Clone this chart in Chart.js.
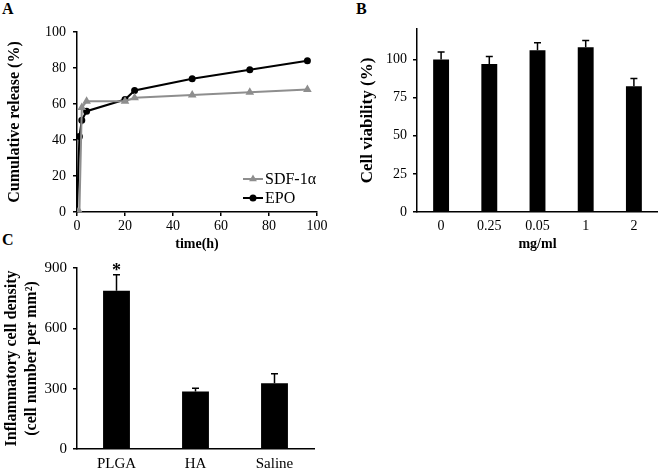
<!DOCTYPE html>
<html>
<head>
<meta charset="utf-8">
<script src="https://cdn.jsdelivr.net/npm/chart.js@4.4.0/dist/chart.umd.min.js"></script>
<style>
  body { margin: 0; background: #fff; width: 658px; height: 471px; position: relative; overflow: hidden; }
  canvas { position: absolute; }
  .tag { position: absolute; font: bold 16px "Liberation Serif", serif; color: #000; }
</style>
</head>
<body>
<div class="tag" style="left:2px; top:0px;">A</div>
<div class="tag" style="left:356px; top:0px;">B</div>
<div class="tag" style="left:2px; top:231px;">C</div>
<canvas id="chart-a" width="330" height="253" style="left:0; top:0;"></canvas>
<canvas id="chart-b" width="328" height="253" style="left:330px; top:0;"></canvas>
<canvas id="chart-c" width="330" height="241" style="left:0; top:230px;"></canvas>
<script>
// --- panel A: release curves ---
const sdfTime = [0, 1, 2, 4, 20, 24, 48, 72, 96];
const sdfRelease = [0, 0, 58, 61.5, 61.5, 63.5, 65, 66.5, 68];
const epoTime = [0, 1, 2, 4, 20, 24, 48, 72, 96];
const epoRelease = [0, 42, 51, 56, 62.5, 67.5, 74, 79, 84];

// --- panel B: cell viability ---
const doseLabels = ['0', '0.25', '0.05', '1', '2'];
const viability = [100, 97, 106, 108, 82.5];
const viabilityErr = [5, 5, 5, 4.5, 5];

// --- panel C: inflammatory cells ---
const groupLabels = ['PLGA', 'HA', 'Saline'];
const cellDensity = [787, 286, 327];
const cellDensityErr = [80, 16, 47];
const starMarks = ['*', '', ''];

const SERIF = '"Liberation Serif", "Times New Roman", serif';
Chart.defaults.font.family = SERIF;
Chart.defaults.color = '#000';

// draws upper error whiskers and star marks for bar datasets
const errorBarPlugin = {
    id: 'errorBars',
    afterDatasetsDraw(chart) {
        const ctx = chart.ctx;
        const ys = chart.scales.y;
        chart.data.datasets.forEach((ds, di) => {
            if (!ds.errors) return;
            const meta = chart.getDatasetMeta(di);
            ctx.save();
            ctx.strokeStyle = '#000';
            ctx.lineWidth = 1.5;
            meta.data.forEach((bar, i) => {
                const top = ys.getPixelForValue(ds.data[i] + ds.errors[i]);
                const y0 = ys.getPixelForValue(ds.data[i]);
                const x = bar.x;
                ctx.beginPath();
                ctx.moveTo(x, y0);
                ctx.lineTo(x, top);
                ctx.moveTo(x - 3.5, top);
                ctx.lineTo(x + 3.5, top);
                ctx.stroke();
                if (ds.marks && ds.marks[i]) {
                    ctx.fillStyle = '#000';
                    ctx.font = 'bold 18px ' + SERIF;
                    ctx.textAlign = 'center';
                    ctx.textBaseline = 'alphabetic';
                    ctx.fillText(ds.marks[i], x, top + 1);
                }
            });
            ctx.restore();
        });
    }
};

// legend drawn inside the plot, lower right
const insideLegend = {
    id: 'insideLegend',
    afterDraw(chart) {
        const ctx = chart.ctx;
        const x0 = chart.chartArea.right - 74;
        let y = chart.chartArea.bottom - 33;
        ctx.save();
        chart.data.datasets.forEach(ds => {
            ctx.strokeStyle = ds.borderColor;
            ctx.fillStyle = ds.borderColor;
            ctx.lineWidth = 2;
            ctx.beginPath();
            ctx.moveTo(x0, y);
            ctx.lineTo(x0 + 20, y);
            ctx.stroke();
            Chart.helpers.drawPoint(ctx, { pointStyle: ds.pointStyle, radius: 2.5, borderWidth: 1 }, x0 + 10, y);
            ctx.fillStyle = '#000';
            ctx.font = '16px ' + SERIF;
            ctx.textAlign = 'left';
            ctx.textBaseline = 'middle';
            ctx.fillText(ds.label, x0 + 22, y + 1);
            y += 19;
        });
        ctx.restore();
    }
};

function axisStyle(extra) {
    return Object.assign({
        grid: { display: true, drawOnChartArea: false, drawTicks: true, tickLength: 4, color: '#000', lineWidth: 1.5 },
        border: { display: true, color: '#000', width: 1.5 }
    }, extra);
}

// Panel A
new Chart(document.getElementById('chart-a'), {
    type: 'line',
    data: {
        datasets: [
            {
                label: 'SDF-1α',
                data: sdfTime.map((t, i) => ({ x: t, y: sdfRelease[i] })),
                borderColor: '#8e8e8e', backgroundColor: '#8e8e8e',
                pointStyle: 'triangle', pointRadius: 3, borderWidth: 2
            },
            {
                label: 'EPO',
                data: epoTime.map((t, i) => ({ x: t, y: epoRelease[i] })),
                borderColor: '#000', backgroundColor: '#000',
                pointStyle: 'circle', pointRadius: 2.5, borderWidth: 2
            }
        ]
    },
    options: {
        responsive: false, animation: false,
        layout: { padding: { left: 3, top: 32, right: 13, bottom: 0 } },
        plugins: { legend: { display: false }, tooltip: { enabled: false } },
        scales: {
            x: axisStyle({
                type: 'linear', min: 0, max: 100,
                ticks: { stepSize: 20, font: { size: 14 }, padding: 2 },
                title: { display: true, text: 'time(h)', font: { size: 14, weight: 'bold' }, padding: 0 },
                afterFit(s) { s.height = 41; }
            }),
            y: axisStyle({
                min: 0, max: 100,
                ticks: { stepSize: 20, font: { size: 14 }, padding: 7 },
                title: { display: true, text: 'Cumulative release (%)', font: { size: 16, weight: 'bold' }, padding: 2 },
                afterFit(s) { s.width = 74; }
            })
        }
    },
    plugins: [insideLegend]
});

// Panel B
new Chart(document.getElementById('chart-b'), {
    type: 'bar',
    data: {
        labels: doseLabels,
        datasets: [{
            data: viability, errors: viabilityErr,
            backgroundColor: '#000', categoryPercentage: 1, barPercentage: 0.33
        }]
    },
    options: {
        responsive: false, animation: false,
        layout: { padding: { left: 25, top: 29, right: 0, bottom: 0 } },
        plugins: { legend: { display: false }, tooltip: { enabled: false } },
        scales: {
            x: axisStyle({
                grid: { display: false, drawTicks: false },
                ticks: { font: { size: 14 }, padding: 6 },
                title: { display: true, text: 'mg/ml', font: { size: 14, weight: 'bold' }, padding: 0 },
                afterFit(s) { s.height = 41; }
            }),
            y: axisStyle({
                min: 0, max: 120,
                ticks: { stepSize: 25, includeBounds: false, font: { size: 14 }, padding: 6 },
                title: { display: true, text: 'Cell viability (%)', font: { size: 17, weight: 'bold' }, padding: 2 },
                afterFit(s) { s.width = 62; }
            })
        }
    },
    plugins: [errorBarPlugin]
});

// Panel C
new Chart(document.getElementById('chart-c'), {
    type: 'bar',
    data: {
        labels: groupLabels,
        datasets: [{
            data: cellDensity, errors: cellDensityErr, marks: starMarks,
            backgroundColor: '#000', categoryPercentage: 1, barPercentage: 0.34
        }]
    },
    options: {
        responsive: false, animation: false,
        layout: { padding: { left: 0, top: 38, right: 16, bottom: 0 } },
        plugins: { legend: { display: false }, tooltip: { enabled: false } },
        scales: {
            x: axisStyle({
                grid: { display: false, drawTicks: false },
                ticks: { font: { size: 15 }, padding: 6 },
                afterFit(s) { s.height = 22; }
            }),
            y: axisStyle({
                min: 0, max: 900,
                ticks: { stepSize: 300, font: { size: 15 }, padding: 6 },
                title: {
                    display: true,
                    text: ['Inflammatory cell density', '(cell number per mm²)'],
                    font: { size: 16, weight: 'bold', lineHeight: 1.25 }, padding: 2
                },
                afterFit(s) { s.width = 77; }
            })
        }
    },
    plugins: [errorBarPlugin]
});
</script>
</body>
</html>
